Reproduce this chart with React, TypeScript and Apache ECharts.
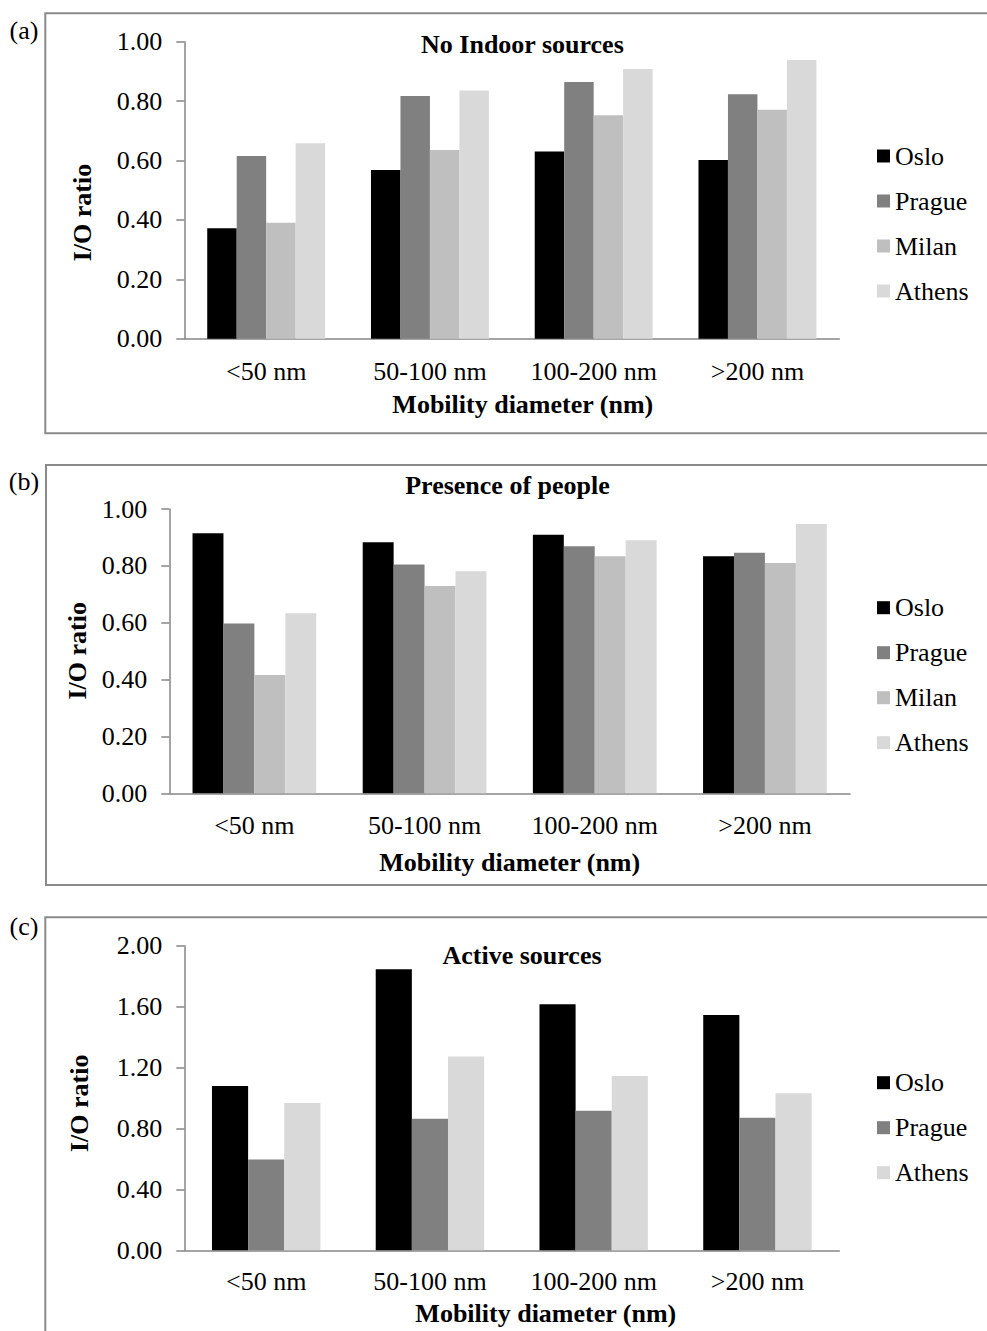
import React, { useEffect, useRef } from "react";
import * as echarts from "echarts";

const categories = ["<50 nm", "50-100 nm", "100-200 nm", ">200 nm"];
const cities4 = ["Oslo", "Prague", "Milan", "Athens"];
const cities3 = ["Oslo", "Prague", "Athens"];
const cityColors: Record<string, string> = {
  Oslo: "#000000",
  Prague: "#808080",
  Milan: "#bfbfbf",
  Athens: "#d9d9d9",
};

// Panel (a) No Indoor sources
const osloA = [0.372, 0.568, 0.63, 0.602];
const pragueA = [0.615, 0.817, 0.864, 0.823];
const milanA = [0.39, 0.635, 0.752, 0.771];
const athensA = [0.658, 0.836, 0.908, 0.938];
// Panel (b) Presence of people
const osloB = [0.915, 0.883, 0.909, 0.834];
const pragueB = [0.597, 0.805, 0.869, 0.846];
const milanB = [0.416, 0.729, 0.834, 0.81];
const athensB = [0.633, 0.781, 0.89, 0.947];
// Panel (c) Active sources
const osloC = [1.078, 1.846, 1.615, 1.545];
const pragueC = [0.597, 0.864, 0.917, 0.871];
const athensC = [0.967, 1.273, 1.144, 1.031];

const titles = ["No Indoor sources", "Presence of people", "Active sources"];
const panelLabels = ["(a)", "(b)", "(c)"];
const yMax = [1, 1, 2];
const yInterval = [0.2, 0.2, 0.4];

const FONT = '"Liberation Serif", "Times New Roman", serif';
const AXIS = "#868686";

export default function App() {
  const ref = useRef<HTMLDivElement>(null);
  useEffect(() => {
    if (!ref.current) return;
    const chart = echarts.init(ref.current, null, { renderer: "svg" });

    const grids = [
      { left: 184.3, top: 41.7, width: 655, height: 297 },
      { left: 169.3, top: 509, width: 680.7, height: 284.3 },
      { left: 184.3, top: 945.7, width: 655, height: 304.6 },
    ];
    const catGaps = ["28%", "27.3%", "33.8%"];
    const labelMargins = [20, 18.7, 18.4];
    const panelData: { name: string; data: number[] }[][] = [
      [
        { name: "Oslo", data: osloA },
        { name: "Prague", data: pragueA },
        { name: "Milan", data: milanA },
        { name: "Athens", data: athensA },
      ],
      [
        { name: "Oslo", data: osloB },
        { name: "Prague", data: pragueB },
        { name: "Milan", data: milanB },
        { name: "Athens", data: athensB },
      ],
      [
        { name: "Oslo", data: osloC },
        { name: "Prague", data: pragueC },
        { name: "Athens", data: athensC },
      ],
    ];

    const series: any[] = [];
    panelData.forEach((list, i) => {
      list.forEach((s) => {
        series.push({
          type: "bar",
          name: s.name,
          xAxisIndex: i,
          yAxisIndex: i,
          data: s.data,
          barGap: "0%",
          barCategoryGap: catGaps[i],
          itemStyle: { color: cityColors[s.name] },
        });
      });
    });

    const xAxis = grids.map((_, i) => ({
      type: "category",
      gridIndex: i,
      data: categories,
      axisLine: { lineStyle: { color: AXIS, width: 1.5 } },
      axisTick: { length: 8, interval: 0, lineStyle: { color: AXIS, width: 1.5 } },
      axisLabel: {
        interval: 0,
        hideOverlap: false,
        color: "#000",
        fontFamily: FONT,
        fontSize: 26,
        lineHeight: 26,
        margin: labelMargins[i],
      },
    }));
    const yAxis = grids.map((_, i) => ({
      type: "value",
      gridIndex: i,
      min: 0,
      max: yMax[i],
      interval: yInterval[i],
      splitLine: { show: false },
      axisLine: { show: true, lineStyle: { color: AXIS, width: 1.5 } },
      axisTick: { show: true, length: 8, lineStyle: { color: AXIS, width: 1.5 } },
      axisLabel: {
        color: "#000",
        fontFamily: FONT,
        fontSize: 26,
        margin: 22,
        formatter: (v: number) => v.toFixed(2),
      },
    }));

    const legendTops = [143, 594.7, 1069.7];
    const legend = legendTops.map((t, i) => ({
      data: i === 2 ? cities3 : cities4,
      left: 877,
      top: t,
      orient: "vertical",
      padding: 0,
      itemWidth: 13,
      itemHeight: 13,
      itemGap: 19,
      icon: "rect",
      selectedMode: false,
      textStyle: { color: "#000", fontFamily: FONT, fontSize: 26, lineHeight: 26 },
    }));

    const txt = (text: string, x: number, y: number, bold: boolean, rot = 0) => ({
      type: "text",
      x,
      y,
      rotation: rot,
      silent: true,
      style: {
        text,
        fill: "#000",
        font: `${bold ? "bold " : ""}26px ${FONT}`,
        align: "center",
        verticalAlign: "middle",
      },
    });

    const boxes = [
      { x: 45.3, y: 13.3, h: 420 },
      { x: 46, y: 465, h: 420 },
      { x: 45.3, y: 917.3, h: 440 },
    ];
    const titlePos = [
      [522.4, 44.2],
      [507.5, 485.5],
      [522, 955],
    ];
    const yTitlePos = [
      [82, 212.5],
      [77.3, 650.8],
      [79, 1103.3],
    ];
    const xTitlePos = [
      [522.8, 404.5],
      [509.7, 862.5],
      [545.8, 1313],
    ];
    const labelPos = [
      [24, 30],
      [24, 481.5],
      [24, 926.5],
    ];

    const graphic: any[] = [];
    boxes.forEach((b) => {
      graphic.push({
        type: "rect",
        silent: true,
        shape: { x: b.x, y: b.y, width: 960, height: b.h },
        style: { fill: "none", stroke: "#8a8a8a", lineWidth: 2 },
      });
    });
    for (let i = 0; i < 3; i++) {
      graphic.push(txt(titles[i], titlePos[i][0], titlePos[i][1], true));
      graphic.push(txt("I/O ratio", yTitlePos[i][0], yTitlePos[i][1], true, Math.PI / 2));
      graphic.push(txt("Mobility diameter (nm)", xTitlePos[i][0], xTitlePos[i][1], true));
      graphic.push(txt(panelLabels[i], labelPos[i][0], labelPos[i][1], false));
    }

    chart.setOption({
      animation: false,
      backgroundColor: "#ffffff",
      grid: grids.map((g) => ({ ...g, containLabel: false })),
      xAxis,
      yAxis,
      legend,
      series,
      graphic,
    });
    return () => chart.dispose();
  }, []);

  return (
    <div
      ref={ref}
      style={{ position: "absolute", left: 0, top: 0, width: 987, height: 1331 }}
    />
  );
}
